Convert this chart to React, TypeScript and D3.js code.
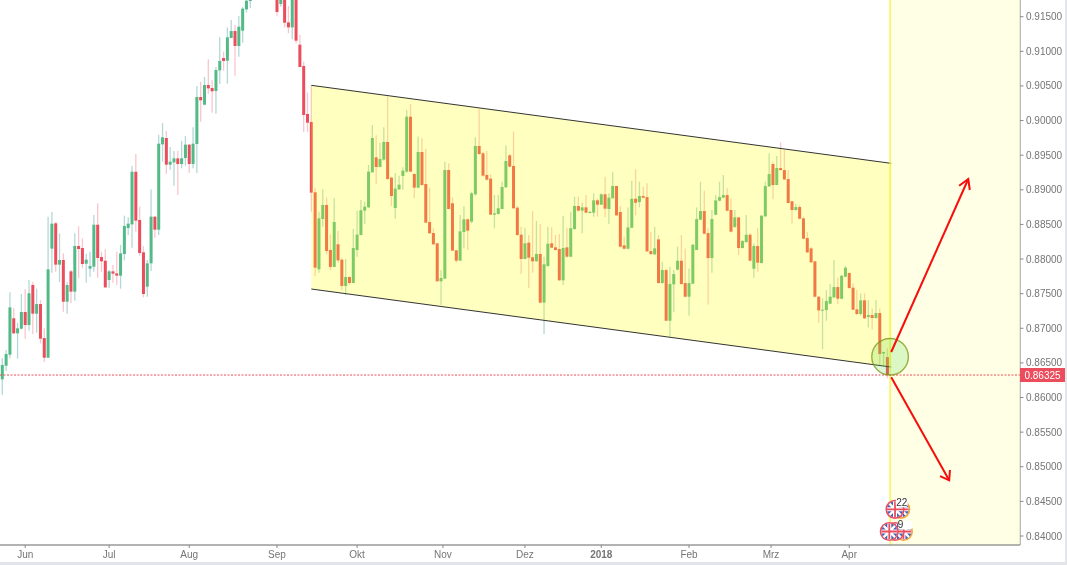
// EUR/GBP daily candles with falling channel and breakout arrows
import React from 'react';
import * as d3 from 'd3';

const WIDTH = 1067;
const HEIGHT = 565;
const POINT = 1e-5;

// prices in points (1e-5), one entry per daily bar
const opens = [
  86262,86460,86619,87144,86927,86994,87235,87047,87625,87211,
  87350,86859,86575,88150,88516,87919,87986,87384,87822,87529,
  88188,88159,87933,87861,87890,88496,88029,87976,87697,87822,
  87793,87760,88073,88448,88501,89261,88564,88097,87601,87938,
  88612,88424,89656,89748,89363,89396,89454,89372,89459,89652,
  89372,89661,90340,90229,90513,90470,90427,90725,90903,90865,
  91192,91293,91077,91298,91606,91727,91770,92050,92420,92180,
  92690,93020,92640,91683,91960,91418,91346,91950,91096,90788,
  90095,89979,88964,87852,88578,88781,88131,87886,88213,87991,
  87611,87741,87654,88131,88347,88699,88747,89252,89469,89329,
  89435,89691,89175,88737,89007,89200,89262,90056,89228,89031,
  89546,89084,88535,88376,88227,87678,87717,89286,88805,88126,
  87977,88391,88574,88540,88935,89633,89527,89214,89161,88641,
  88651,88723,89036,89498,89344,88742,88352,88001,88237,88025,
  87967,88073,87370,87900,88227,88169,88145,87693,88169,88034,
  88434,88766,88699,88747,88665,88670,88848,88785,88935,88723,
  88877,89055,88679,88197,88149,88452,88871,88823,88910,88895,
  88115,88067,88284,87653,87841,87109,87634,87846,87976,87653,
  87456,87644,88130,88568,88693,88375,88014,88640,88842,88886,
  88924,88708,88462,88602,88159,88245,88351,87860,88188,87942,
  88616,89049,89372,89069,89314,89285,89155,88833,88708,88751,
  88587,88303,88154,87966,87456,87254,87263,87355,87446,87595,
  87427,87745,87798,87586,87273,87206,87403,87162,87191,87148,
  87220,86637,86584,
];
const closes = [
  86470,86628,87302,86927,86999,87235,87047,87505,87211,87350,
  86850,86575,87851,88511,87919,87986,87384,87625,87529,88188,
  88145,87928,87991,87899,88496,88015,87967,87591,87822,87789,
  87760,88082,88477,88511,89261,88554,88087,87495,87938,88612,
  88424,89666,89758,89363,89406,89454,89372,89454,89652,89372,
  89666,90340,90292,90513,90465,90422,90730,90860,90860,91202,
  91293,91077,91356,91616,91731,91765,92050,92420,92180,92690,
  93020,92640,91568,91960,91414,91346,91950,91154,90773,90080,
  89969,88959,87876,88588,88781,88116,87886,88535,87981,87611,
  87741,87654,88160,88352,88704,88757,89262,89748,89329,89445,
  89691,89156,88911,89017,89074,89277,90056,89262,89031,89546,
  89069,88526,88371,88213,87678,87726,89286,88723,88121,87977,
  88400,88574,88410,88949,89633,89517,89204,89147,88641,88660,
  88733,89041,89416,89334,88733,88347,88001,88227,88020,87967,
  88073,87370,87924,88222,88164,88131,87693,88160,88034,88444,
  88766,88699,88747,88670,88680,88848,88785,88935,88728,88887,
  89055,88631,88178,88149,88457,88871,88813,88910,88886,88111,
  88072,88154,87653,87841,87109,87639,87783,87976,87639,87456,
  87653,88207,88578,88693,88366,88014,88578,88847,88895,88924,
  88698,88395,88602,88159,88260,88351,87976,88188,87947,88626,
  89054,89227,89069,89314,89285,89150,88809,88708,88751,88582,
  88294,88096,87952,87456,87258,87268,87393,87456,87595,87427,
  87759,87875,87581,87268,87206,87403,87143,87191,87148,87220,
  86628,86657,86325,
];
const highs = [
  86566,86686,87519,87288,87081,87495,87562,87697,87673,87572,
  87408,86999,88612,88679,88535,88371,88082,87663,87842,88371,
  88472,88299,88073,88106,88636,88804,88106,88140,87842,87914,
  88106,88203,88626,88602,89343,89517,88756,88188,87986,89007,
  88621,89796,89965,89849,89618,89560,89560,89705,89777,89661,
  89902,90499,90561,90629,90884,90581,90773,91202,90995,91346,
  91452,91380,91510,91635,91780,91813,92150,92560,92500,92950,
  93070,93060,92700,92080,92010,91654,92000,92000,91240,90850,
  90407,90509,89021,88684,89007,88887,88357,88877,88405,88010,
  88001,87746,88434,88699,88853,88829,89358,89936,89787,89681,
  89902,90345,89190,89238,89204,89325,90153,90239,89238,89768,
  89744,89589,89031,88444,88227,87842,89406,89382,88891,88131,
  88636,88766,88588,88973,89758,90162,89551,89561,89224,88925,
  88925,89118,89638,89517,89840,88766,88468,88453,88347,88694,
  88550,88506,88034,88468,88458,88347,88362,88622,88444,88684,
  88901,88901,88814,88925,88699,88949,88877,88949,89190,88949,
  89262,89055,88765,88322,88746,89131,89295,89117,89045,89093,
  88395,88467,88346,87961,87865,87889,87841,88178,88346,88154,
  87865,88212,88746,89117,88987,88443,88708,88924,89117,89213,
  89021,88876,88708,88602,88274,88635,88371,88226,88443,88635,
  89117,89526,89406,89488,89685,89574,89285,88842,88794,88780,
  88611,88395,88178,87976,87465,87432,87552,87639,87985,87735,
  87769,87899,87807,87648,87552,87504,87504,87408,87287,87408,
  87287,86661,86710,
];
const lows = [
  86041,86383,86566,86917,86561,86985,86850,86965,86917,86936,
  86782,86513,86575,87803,87817,87668,87240,87211,87360,87399,
  87721,87866,87659,87745,87817,87731,87817,87582,87586,87659,
  87625,87572,87981,88347,88164,88395,88049,87447,87456,87827,
  88309,88347,89406,89233,89291,89059,88925,89310,89348,89242,
  89310,89242,89984,90220,90388,90114,90099,90528,90720,90533,
  91192,90648,90923,91125,91558,91621,91780,91980,92060,92110,
  92540,92480,91515,91645,91346,91260,91173,91115,90773,89835,
  89835,88684,87755,87803,88468,88068,87842,87880,87948,87553,
  87481,87625,87649,88034,88343,88506,88733,89248,89084,89325,
  89421,89142,88766,88583,88997,88997,89248,89262,88877,89021,
  89060,88516,88371,88203,87678,87336,87712,88718,88116,87948,
  87972,88155,88131,88516,88915,89503,89190,89132,88636,88444,
  88641,88718,89031,89325,88728,88338,87784,87996,87577,87803,
  87962,87360,86917,87890,88155,88121,87688,87625,88020,88025,
  88420,88684,88371,88660,88660,88612,88612,88781,88603,88506,
  88877,88622,88168,88139,88139,88443,88631,88746,88876,88101,
  88058,88058,87648,87648,87104,86878,87230,87836,87629,87446,
  87181,87639,88130,88563,88356,87345,87803,88631,88833,88876,
  88688,88385,88452,88058,88154,88236,87966,87730,87817,87937,
  88611,89045,88862,89069,89276,89141,88804,88515,88698,88573,
  88284,88087,87947,87446,87080,86695,87109,87350,87441,87350,
  87417,87735,87571,87263,87191,87186,87133,87013,86984,87138,
  86469,86464,86276,
];

const monthLabels = ['Jun', 'Jul', 'Aug', 'Sep', 'Okt', 'Nov', 'Dez', '2018', 'Feb', 'Mrz', 'Apr'];
const monthBars = [6, 28, 49, 72, 93, 115.5, 137, 157, 180, 201.5, 222];
const priceTicks = [0.84, 0.845, 0.85, 0.855, 0.86, 0.865, 0.87, 0.875, 0.88, 0.885, 0.89, 0.895, 0.9, 0.905, 0.91, 0.915];

const lastPrice = 0.86325;
const lastBar = 232.7;

// drawings, as [bar, price] anchors
const channelTop = [[81, 0.90509], [233, 0.89382]];
const channelBottom = [[81, 0.87567], [233, 0.8644]];
const arrowUp = [[233, 0.86657], [253.2, 0.89156]];
const arrowUpHead = [[250.8, 0.89059], [253.2, 0.89156], [253.6, 0.88997]];
const arrowDown = [[233, 0.86292], [248.2, 0.84804]];
const arrowDownHead = [[245.8, 0.84866], [248.2, 0.84804], [248.4, 0.84953]];
const circleAnchor = [232.7, 0.86589];

const newsCounts = ['22', '9'];
const newsPrices = [0.84385, 0.84065];
const newsBars = [[234, 235.5], [232.5, 234, 236.2]];

const UP = '#53b987';
const DOWN = '#eb4d5c';
const UP_WICK = '#b4d8d6';
const DOWN_WICK = '#f9c6cd';
const AXIS_TEXT = '#757575';

const x = d3.scaleLinear().domain([0, 232]).range([2.3, 887.4]);
const y = d3.scaleLinear().domain([0.84, 0.915]).range([536, 16.7]);
const line = d3.line<number[]>().x(d => x(d[0])).y(d => y(d[1]));

const FONT = '"Liberation Sans", Arial, sans-serif';

const FlagDisc = ({ cx, cy, id, ring }: { cx: number; cy: number; id: string; ring: string }) => (
  <g>
    <clipPath id={id}>
      <circle cx={cx} cy={cy} r={8} />
    </clipPath>
    <circle cx={cx} cy={cy} r={8.8} fill="#fff" stroke={ring} strokeWidth={1.6} />
    <g clipPath={`url(#${id})`} strokeLinecap="butt">
      <rect x={cx - 8} y={cy - 8} width={16} height={16} fill="#4a5fae" />
      <path d={`M${cx - 8},${cy - 8}L${cx + 8},${cy + 8}M${cx + 8},${cy - 8}L${cx - 8},${cy + 8}`} stroke="#fff" strokeWidth={2.4} />
      <path d={`M${cx - 8},${cy}H${cx + 8}M${cx},${cy - 8}V${cy + 8}`} stroke="#fff" strokeWidth={4} />
      <path d={`M${cx - 8},${cy}H${cx + 8}M${cx},${cy - 8}V${cy + 8}`} stroke={DOWN} strokeWidth={1.8} />
    </g>
  </g>
);

export default function App() {
  const bars = d3.range(opens.length);
  const [cx, cy] = [x(circleAnchor[0]), y(circleAnchor[1])];
  const channelShape = [...channelTop, ...[...channelBottom].reverse()];
  const zoneX = x(lastBar);
  const axisX = 1020;
  const axisY = 545;

  return (
    <svg
      width={WIDTH}
      height={HEIGHT}
      style={{ position: 'absolute', left: 0, top: 0, fontFamily: FONT, filter: 'blur(0.35px)' }}
    >
      <rect width={WIDTH} height={HEIGHT} fill="#fff" />

      {/* candles */}
      <g>
        {bars.map(i => {
          const up = closes[i] >= opens[i];
          const top = y(Math.max(opens[i], closes[i]) * POINT);
          const bottom = y(Math.min(opens[i], closes[i]) * POINT);
          return (
            <g key={i}>
              <line
                x1={x(i)}
                x2={x(i)}
                y1={y(highs[i] * POINT)}
                y2={y(lows[i] * POINT)}
                stroke={up ? UP_WICK : DOWN_WICK}
                strokeWidth={1.3}
              />
              <rect
                x={x(i) - 1.5}
                y={top}
                width={3}
                height={Math.max(bottom - top, 1)}
                fill={up ? UP : DOWN}
              />
            </g>
          );
        })}
      </g>

      {/* channel */}
      <path d={line(channelShape) + 'Z'} fill="rgba(255,255,0,0.25)" />
      <path d={line(channelTop)!} fill="none" stroke="#333" strokeWidth={1} />
      <path d={line(channelBottom)!} fill="none" stroke="#333" strokeWidth={1} />

      {/* projection zone */}
      <rect x={zoneX} y={0} width={axisX - zoneX} height={axisY} fill="rgba(255,255,0,0.1)" />
      <line x1={zoneX} x2={zoneX} y1={0} y2={axisY} stroke="#f2f230" strokeWidth={1.2} />

      {/* last price */}
      <line
        x1={0}
        x2={axisX}
        y1={y(lastPrice)}
        y2={y(lastPrice)}
        stroke={DOWN}
        strokeWidth={1}
        strokeDasharray="2,1.5"
      />

      <circle cx={cx} cy={cy} r={18.3} fill="rgba(76,217,60,0.2)" stroke="rgba(125,150,20,0.75)" strokeWidth={1.4} />

      {/* arrows */}
      {[arrowUp, arrowUpHead, arrowDown, arrowDownHead].map((pts, i) => (
        <path key={i} d={line(pts)!} fill="none" stroke="#f80c0c" strokeWidth={2} />
      ))}

      {/* news markers */}
      {newsCounts.map((count, n) => {
        const my = y(newsPrices[n]);
        const bs = newsBars[n];
        const anchor = x(bs[bs.length - 1]);
        return (
          <g key={count}>
            {[...bs].reverse().map((b, k) => (
              <FlagDisc key={k} cx={x(b)} cy={my} id={`flag-${n}-${k}`} ring={k === 0 ? '#f5a63a' : DOWN} />
            ))}
            <rect x={anchor - 5} y={my - 10.5} width={n === 0 ? 12 : 14} height={8.5} rx={3} fill="#fff" />
            <text
              x={n === 0 ? anchor + 1 : anchor - 3}
              y={my - 3}
              fontSize={10}
              textAnchor="middle"
              fill="#333"
            >
              {count}
            </text>
          </g>
        );
      })}

      {/* axes */}
      <rect x={axisX} y={0} width={WIDTH - axisX} height={HEIGHT} fill="#fff" />
      <rect x={0} y={axisY} width={WIDTH} height={HEIGHT - axisY} fill="#fff" />
      <line x1={axisX + 0.25} x2={axisX + 0.25} y1={0} y2={axisY} stroke="#a6a6a6" strokeWidth={1} />
      <line x1={0} x2={axisX} y1={axisY} y2={axisY} stroke="#666" strokeWidth={1} />
      {priceTicks.map(t => (
        <g key={t}>
          <line x1={axisX} x2={axisX + 3.5} y1={y(t)} y2={y(t)} stroke="#8a8a8a" />
          <text x={1026} y={y(t) + 3.5} fontSize={10} fill={AXIS_TEXT}>
            {d3.format('.5f')(t)}
          </text>
        </g>
      ))}
      {monthLabels.map((label, i) => (
        <g key={label}>
          <line
            x1={x(monthBars[i])}
            x2={x(monthBars[i])}
            y1={axisY}
            y2={axisY + 3}
            stroke="#8a8a8a"
          />
          <text
            x={x(monthBars[i])}
            y={558}
            fontSize={10}
            textAnchor="middle"
            fill={AXIS_TEXT}
            fontWeight={label === '2018' ? 700 : 400}
          >
            {label}
          </text>
        </g>
      ))}

      <rect x={axisX} y={y(lastPrice) - 7} width={45} height={14} fill={DOWN} />
      <text x={axisX + 22.5} y={y(lastPrice) + 3.5} fontSize={10} textAnchor="middle" fill="#fff">
        {d3.format('.5f')(lastPrice)}
      </text>

      {/* window edge */}
      <rect x={0} y={562} width={WIDTH} height={3} fill="#e2e6ea" />
      <rect x={1065} y={0} width={2} height={HEIGHT} fill="#e2e6ea" />
    </svg>
  );
}
